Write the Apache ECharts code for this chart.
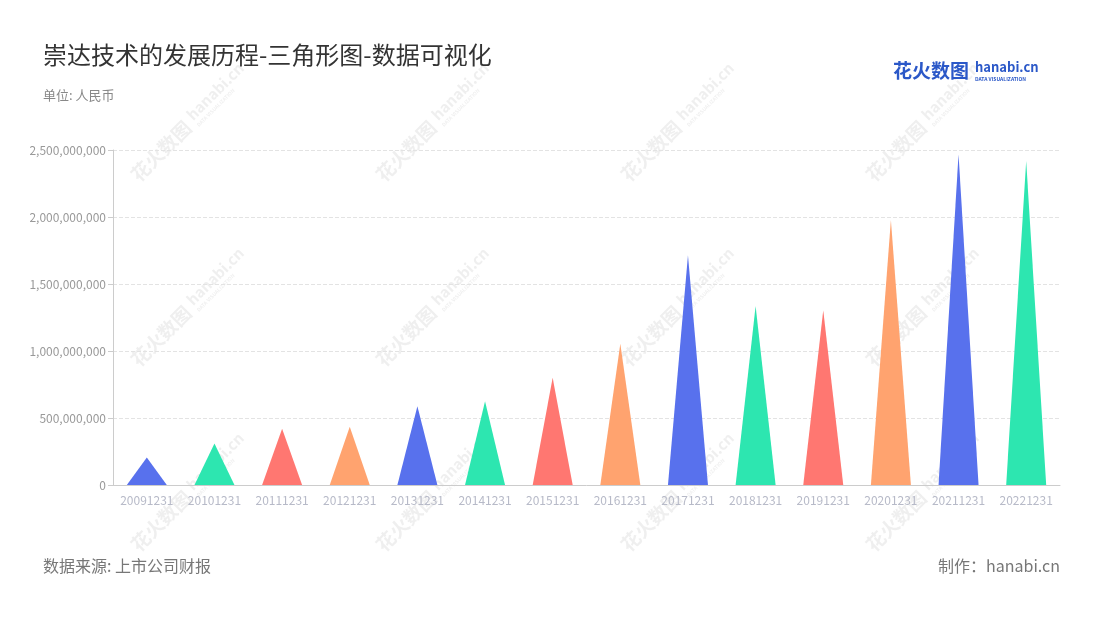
<!DOCTYPE html>
<html><head><meta charset="utf-8">
<script src="https://cdn.jsdelivr.net/npm/echarts@6/dist/echarts.min.js"></script>
<style>html,body{margin:0;padding:0;background:#fff}#c{width:1100px;height:620px}</style>
</head><body><div id="c"></div>
<script>
const categories = ['20091231','20101231','20111231','20121231','20131231','20141231','20151231','20161231','20171231','20181231','20191231','20201231','20211231','20221231'];
const values = [205000000,310000000,420000000,435000000,588000000,625000000,800000000,1055000000,1715000000,1336000000,1304000000,1977000000,2468000000,2418000000];
const palette = ['#5871ED','#2DE6B0','#FF7771','#FFA36F'];
const yTicks = {min:0, max:2500000000, interval:500000000};

const chart = echarts.init(document.getElementById('c'));
const FONT = '"Noto Sans CJK SC","Noto Sans",sans-serif';
const WMC = 'rgba(150,150,150,0.15)';

const wm = [];
[185,430,675,920].forEach(x=>{
  [127,312,497].forEach(y=>{
    wm.push({
      type:'group', x:x, y:y, rotation:Math.PI/4, z:100, silent:true,
      children:[
        {type:'text', x:-72, y:0, style:{text:'花火数图', font:'bold 19px '+FONT, fill:WMC, textVerticalAlign:'middle'}},
        {type:'text', x:10, y:-4, style:{text:'hanabi.cn', font:'bold 15px '+FONT, fill:WMC, textVerticalAlign:'middle'}},
        {type:'text', x:10, y:8, style:{text:'DATA VISUALIZATION', font:'bold 5px '+FONT, fill:WMC, textVerticalAlign:'middle'}}
      ]
    });
  });
});

chart.setOption({
  animation:false,
  textStyle:{fontFamily:FONT},
  title:[
    {text:'崇达技术的发展历程-三角形图-数据可视化', left:43, top:43, padding:0, textStyle:{fontSize:24, fontWeight:'normal', color:'#333', fontFamily:FONT}},
    {text:'单位: 人民币', left:43, top:89, padding:0, textStyle:{fontSize:13, fontWeight:'normal', color:'#888', fontFamily:FONT}},
    {text:'数据来源: 上市公司财报', left:43, top:558, padding:0, textStyle:{fontSize:16, fontWeight:'normal', color:'#777', fontFamily:FONT}},
    {text:'制作：hanabi.cn', right:40, top:558, padding:0, textStyle:{fontSize:16, fontWeight:'normal', color:'#777', fontFamily:FONT}}
  ],
  grid:{left:113, right:40, top:150, bottom:135},
  xAxis:{
    type:'category', data:categories,
    axisLine:{lineStyle:{color:'#ccc'}},
    axisTick:{alignWithLabel:true, lineStyle:{color:'#999'}},
    axisLabel:{color:'#b7bac8', fontSize:12, margin:9, interval:0}
  },
  yAxis:{
    type:'value', min:yTicks.min, max:yTicks.max, interval:yTicks.interval,
    axisLine:{show:true, lineStyle:{color:'#ccc'}},
    axisTick:{show:true, length:5, lineStyle:{color:'#ccc'}},
    axisLabel:{color:'#999', fontSize:12, margin:7, formatter:v=>v.toLocaleString('en-US')},
    splitLine:{lineStyle:{type:'dashed', color:'#e3e3e3'}}
  },
  series:[{
    type:'pictorialBar',
    symbol:'triangle',
    symbolSize:[40,'100%'],
    data: values.map((v,i)=>({value:v, itemStyle:{color:palette[i%4]}}))
  }],
  graphic:[
    ...wm,
    {type:'text', left:893, top:61, z:110, style:{text:'花火数图', font:'bold 19px '+FONT, fill:'#2B58C8'}},
    {type:'text', left:975, top:61, z:110, style:{text:'hanabi.cn', font:'bold 13px '+FONT, fill:'#2B58C8'}},
    {type:'text', left:975, top:77, z:110, style:{text:'DATA VISUALIZATION', font:'bold 5px '+FONT, fill:'#2B58C8'}}
  ]
});
</script></body></html>
